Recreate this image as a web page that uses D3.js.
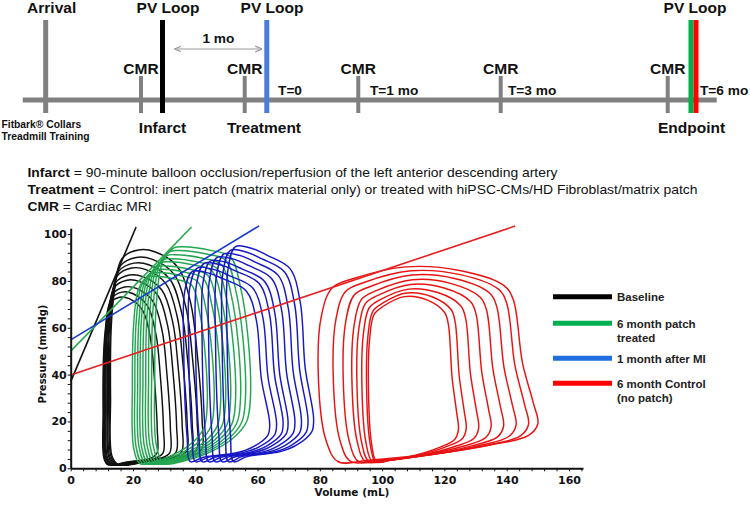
<!DOCTYPE html>
<html>
<head>
<meta charset="utf-8">
<script src="https://cdn.jsdelivr.net/npm/d3@7"></script>
<style>
  body { margin: 0; background: #fff; }
  svg { display: block; }
  .axis text { font-family: 'DejaVu Sans', Verdana, sans-serif; font-weight: bold; font-size: 11px; fill: #111; }
  .axis path, .axis line { stroke: #111; }
  .tl { font-family: 'Liberation Sans', Arial, sans-serif; font-weight: bold; fill: #111; }
</style>
</head>
<body>
<div class="figure"></div>
<script>
// TIMELINE (positions are % of the figure width)
const timelineSpan = [3.03, 95.56]
const arrivalAt = 6.09
const cmrAt = [18.8, 32.63, 47.77, 66.76, 89.03]
const pvLoopAt = [21.67, 35.57, 92.13, 92.8]
const pvLoopColors = ['#000000', '#4a7dd6', '#00b050', '#ff0000']
const pvLoopLabelAt = [22.4, 36.27, 92.67]
const stageLabels = ['Infarct', 'Treatment', 'Endpoint']
const stageLabelAt = [21.67, 35.2, 92.2]
const timeLabels = ['T=0', 'T=1 mo', 'T=3 mo', 'T=6 mo']
const timeLabelAt = [37.07, 49.33, 67.73, 93.33]
const oneMonthSpan = [23.33, 34.9]

// NOTES
const noteTerms = ['Infarct', 'Treatment', 'CMR']
const noteTexts = [
    ' = 90-minute balloon occlusion/reperfusion of the left anterior descending artery',
    ' = Control: inert patch (matrix material only) or treated with hiPSC-CMs/HD Fibroblast/matrix patch',
    ' = Cardiac MRI'
]
const noteWidths = [530, 670, 124]

// PV LOOP CHART
const volumeTicks = [0, 20, 40, 60, 80, 100, 120, 140, 160]
const pressureTicks = [0, 20, 40, 60, 80, 100]
const seriesLabels = [['Baseline'], ['6 month patch', 'treated'], ['1 month after MI'], ['6 month Control', '(no patch)']]
const legendColors = ['#000000', '#00b050', '#1f6fe0', '#ff0000']
const loopColors = ['#111111', '#22a650', '#1717c8', '#e81212']
const espvrColors = ['#111111', '#2aa84f', '#1a3ad0', '#e62020']

// loop outline per group, as fractions of [left edge -> right edge] and [min -> peak pressure]
const baselineShape = [[0.09, 0], [0.017, 0.038], [0, 0.311], [0.007, 0.638], [0.04, 0.802], [0.124, 0.96], [0.304, 1], [0.482, 0.992], [0.732, 0.921], [0.876, 0.751], [0.946, 0.518], [1, 0.208], [0.993, 0.069], [0.86, 0.038], [0.425, 0.016]]
const patchShape = [[0.098, 0], [0.016, 0.086], [0, 0.41], [0.016, 0.734], [0.081, 0.929], [0.195, 0.994], [0.293, 1], [0.586, 0.983], [0.792, 0.953], [0.896, 0.815], [0.977, 0.572], [1, 0.302], [0.961, 0.194], [0.824, 0.119], [0.554, 0.048], [0.293, 0.011]]
const miShape = [[0.076, 0], [0.04, 0.122], [0, 0.59], [0.011, 0.895], [0.097, 1], [0.28, 0.993], [0.46, 0.961], [0.727, 0.898], [0.845, 0.743], [0.903, 0.435], [1, 0.2], [0.978, 0.139], [0.806, 0.078], [0.615, 0.047], [0.23, 0.024]]
const controlShape = [[0.091, 0], [0.035, 0.11], [0, 0.447], [0.014, 0.747], [0.063, 0.892], [0.161, 0.94], [0.399, 1], [0.65, 0.98], [0.846, 0.904], [0.888, 0.832], [0.93, 0.507], [0.979, 0.303], [1, 0.195], [0.958, 0.135], [0.79, 0.087], [0.51, 0.038], [0.231, 0.008]]

// each loop: [left volume, right volume, peak pressure]
const baselineLoops = [[10.4, 27.8, 73], [10.6, 29.8, 75.2], [10.9, 32, 77.4], [11.1, 34, 80.3], [11.4, 35.8, 82.5], [11.8, 37.4, 85.5], [12.1, 39, 87.6], [12.5, 40.6, 90], [12.8, 42.2, 93.2]]
const patchLoops = [[19.8, 43.8, 82], [20.6, 46, 83.6], [21.5, 48.1, 85], [22.3, 49.7, 86.4], [23.2, 51.3, 88.2], [24.1, 52.9, 89.5], [25, 54.5, 91.2], [26, 56.1, 93], [27, 57.7, 94.6]]
const miLoops = [[36.3, 63.9, 84], [37.9, 66.1, 85.5], [40.1, 68.2, 87.5], [42.2, 69.8, 88.5], [44.3, 72, 90], [46.5, 74.1, 91.5], [48.6, 76.2, 93], [50.2, 78, 94.6]]
const controlLoops = [[95.6, 124.5, 73.3], [95, 127, 74.8], [93.5, 131, 76.5], [91.9, 135, 78.5], [90.3, 139, 80.5], [87.5, 143, 82.5], [84.3, 147, 84.3], [79.5, 150, 86]]
const minPressures = [1.5, 2, 2.8, 2.8]

// end-systolic pressure-volume lines [volume, pressure]
const espvrLines = [
    [[0, 37], [21, 103]],
    [[0, 50], [38.8, 103]],
    [[0, 54.8], [60.5, 103.5]],
    [[0, 39.8], [142.7, 103.4]]
]

const width = 750
const height = 506

const svg = d3.select('.figure')
    .append('svg')
    .attr('width', width)
    .attr('height', height)

// ---------- timeline ----------
const tl = d3.scaleLinear().domain([0, 100]).range([0, width])
const grey = '#808080'

svg.append('line')
    .attr('x1', tl(timelineSpan[0])).attr('x2', tl(timelineSpan[1]))
    .attr('y1', 100).attr('y2', 100)
    .attr('stroke', grey).attr('stroke-width', 5)

svg.append('line')
    .attr('x1', tl(arrivalAt)).attr('x2', tl(arrivalAt))
    .attr('y1', 20).attr('y2', 113)
    .attr('stroke', grey).attr('stroke-width', 5)

svg.selectAll('.cmr-tick')
    .data(cmrAt)
    .enter()
    .append('line')
    .attr('x1', d => tl(d)).attr('x2', d => tl(d))
    .attr('y1', 76).attr('y2', 113)
    .attr('stroke', grey).attr('stroke-width', 4)

svg.selectAll('.cmr-label')
    .data(cmrAt)
    .enter()
    .append('text')
    .attr('class', 'tl')
    .attr('x', d => tl(d))
    .attr('y', 74)
    .attr('text-anchor', 'middle')
    .attr('font-size', 15.5)
    .text('CMR')

svg.selectAll('.pv-line')
    .data(pvLoopAt)
    .enter()
    .append('line')
    .attr('x1', d => tl(d)).attr('x2', d => tl(d))
    .attr('y1', 20).attr('y2', 113)
    .attr('stroke', (d, i) => pvLoopColors[i])
    .attr('stroke-width', 5)

svg.selectAll('.pv-label')
    .data(pvLoopLabelAt)
    .enter()
    .append('text')
    .attr('class', 'tl')
    .attr('x', d => tl(d))
    .attr('y', 13)
    .attr('text-anchor', 'middle')
    .attr('font-size', 15.5)
    .text('PV Loop')

svg.append('text')
    .attr('class', 'tl')
    .attr('x', tl(arrivalAt) + 6)
    .attr('y', 13)
    .attr('text-anchor', 'middle')
    .attr('font-size', 15.5)
    .text('Arrival')

svg.selectAll('.stage-label')
    .data(stageLabels)
    .enter()
    .append('text')
    .attr('class', 'tl')
    .attr('x', (d, i) => tl(stageLabelAt[i]))
    .attr('y', 132.5)
    .attr('text-anchor', 'middle')
    .attr('font-size', 15.5)
    .text(d => d)

svg.selectAll('.time-label')
    .data(timeLabels)
    .enter()
    .append('text')
    .attr('class', 'tl')
    .attr('x', (d, i) => tl(timeLabelAt[i]))
    .attr('y', 95)
    .attr('font-size', 13.7)
    .text(d => d)

svg.append('text')
    .attr('class', 'tl')
    .attr('x', 1.5)
    .attr('y', 127.5)
    .attr('font-size', 10.3)
    .text('Fitbark® Collars')

svg.append('text')
    .attr('class', 'tl')
    .attr('x', 1.5)
    .attr('y', 140)
    .attr('font-size', 10.3)
    .text('Treadmill Training')

// 1 month arrow
const defs = svg.append('defs')
defs.append('marker')
    .attr('id', 'arrowhead')
    .attr('viewBox', '0 0 10 10')
    .attr('refX', 9).attr('refY', 5)
    .attr('markerWidth', 6).attr('markerHeight', 6)
    .attr('orient', 'auto-start-reverse')
    .append('path')
    .attr('d', 'M0,1 L10,5 L0,9')
    .attr('fill', 'none')
    .attr('stroke', '#999')
    .attr('stroke-width', 1.6)

svg.append('line')
    .attr('x1', tl(oneMonthSpan[0])).attr('x2', tl(oneMonthSpan[1]))
    .attr('y1', 49).attr('y2', 49)
    .attr('stroke', '#999').attr('stroke-width', 1.2)
    .attr('marker-start', 'url(#arrowhead)')
    .attr('marker-end', 'url(#arrowhead)')

svg.append('text')
    .attr('class', 'tl')
    .attr('x', tl(d3.mean(oneMonthSpan)))
    .attr('y', 43)
    .attr('text-anchor', 'middle')
    .attr('font-size', 13.7)
    .text('1 mo')

// ---------- notes ----------
const notes = svg.selectAll('.note')
    .data(noteTerms)
    .enter()
    .append('text')
    .attr('x', 27.5)
    .attr('y', (d, i) => 177 + i * 17)
    .attr('font-family', "'Liberation Sans', Arial, sans-serif")
    .attr('font-size', 13)
    .attr('fill', '#111')
    .attr('textLength', (d, i) => noteWidths[i])
    .attr('lengthAdjust', 'spacingAndGlyphs')

notes.append('tspan').attr('font-weight', 'bold').text(d => d)
notes.append('tspan').text((d, i) => noteTexts[i])

// ---------- PV loop chart ----------
const x = d3.scaleLinear().domain([0, 164.5]).range([70.7, 583])
const y = d3.scaleLinear().domain([0, 102.5]).range([468.3, 228.2])

const loopLine = d3.line()
    .x(d => x(d[0]))
    .y(d => y(d[1]))
    .curve(d3.curveCatmullRomClosed.alpha(0.5))

function loopPoints(shape, loop, pMin) {
    const [vL, vR, pTop] = loop
    return shape.map(([u, w]) => [vL + u * (vR - vL), pMin + w * (pTop - pMin)])
}

const groups = [
    { shape: baselineShape, loops: baselineLoops },
    { shape: patchShape, loops: patchLoops },
    { shape: miShape, loops: miLoops },
    { shape: controlShape, loops: controlLoops }
]

const plot = svg.append('g')

groups.forEach((g, gi) => {
    plot.selectAll('.loop' + gi)
        .data(g.loops)
        .enter()
        .append('path')
        .attr('d', d => loopLine(loopPoints(g.shape, d, minPressures[gi])))
        .attr('fill', 'none')
        .attr('stroke', loopColors[gi])
        .attr('stroke-width', 1.45)
})

const straight = d3.line().x(d => x(d[0])).y(d => y(d[1]))

plot.selectAll('.espvr')
    .data(espvrLines)
    .enter()
    .append('path')
    .attr('d', d => straight(d))
    .attr('fill', 'none')
    .attr('stroke', (d, i) => espvrColors[i])
    .attr('stroke-width', 1.6)

// axes
const xAxis = svg.append('g')
    .attr('class', 'axis')
    .attr('transform', `translate(0,${y(0)})`)
    .call(d3.axisBottom(x).tickValues(volumeTicks).tickSize(0).tickPadding(8))
xAxis.select('.domain').attr('stroke-width', 2)

svg.append('g')
    .attr('class', 'axis')
    .attr('transform', `translate(0,${y(0)})`)
    .call(d3.axisBottom(x).tickValues(d3.range(0, 165, 4)).tickSize(3).tickFormat(''))
    .call(g => g.select('.domain').remove())

const yAxis = svg.append('g')
    .attr('class', 'axis')
    .attr('transform', `translate(${x(0)},0)`)
    .call(d3.axisLeft(y).tickValues(pressureTicks).tickSize(0).tickPadding(4))
yAxis.select('.domain').attr('stroke-width', 2)

svg.append('g')
    .attr('class', 'axis')
    .attr('transform', `translate(${x(0)},0)`)
    .call(d3.axisLeft(y).tickValues(d3.range(0, 103, 4)).tickSize(3).tickFormat(''))
    .call(g => g.select('.domain').remove())

svg.append('text')
    .attr('x', 352)
    .attr('y', 496)
    .attr('text-anchor', 'middle')
    .attr('font-family', "'DejaVu Sans', Verdana, sans-serif")
    .attr('font-weight', 'bold')
    .attr('font-size', 10.5)
    .attr('fill', '#111')
    .text('Volume (mL)')

svg.append('text')
    .attr('transform', 'translate(45.5,354) rotate(-90)')
    .attr('text-anchor', 'middle')
    .attr('font-family', "'DejaVu Sans', Verdana, sans-serif")
    .attr('font-weight', 'bold')
    .attr('font-size', 10)
    .attr('fill', '#111')
    .text('Pressure (mmHg)')

// legend
const legendY = [296.7, 323.3, 358.3, 383.3]

svg.selectAll('.legend-line')
    .data(legendColors)
    .enter()
    .append('line')
    .attr('x1', 553).attr('x2', 612)
    .attr('y1', (d, i) => legendY[i]).attr('y2', (d, i) => legendY[i])
    .attr('stroke', d => d)
    .attr('stroke-width', 5)

const legendText = svg.selectAll('.legend-text')
    .data(seriesLabels)
    .enter()
    .append('text')
    .attr('x', 617)
    .attr('y', (d, i) => legendY[i] + 4.5)
    .attr('font-family', "'Liberation Sans', Arial, sans-serif")
    .attr('font-weight', 'bold')
    .attr('font-size', 11.5)
    .attr('fill', '#222')

legendText.selectAll('tspan')
    .data(d => d)
    .enter()
    .append('tspan')
    .attr('x', 617)
    .attr('dy', (d, i) => i === 0 ? 0 : 14)
    .text(d => d)
</script>
</body>
</html>
